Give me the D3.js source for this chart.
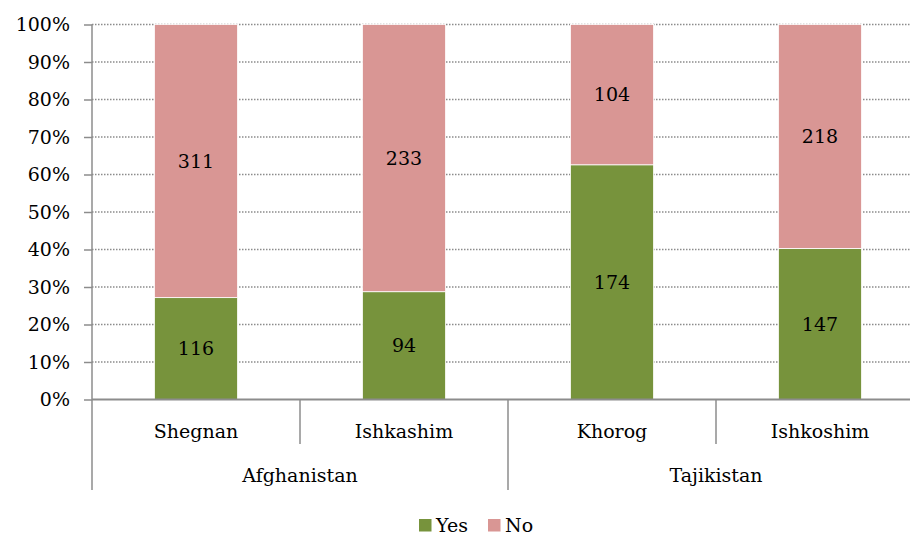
<!DOCTYPE html>
<html lang="en">
<head>
    <meta charset="UTF-8">
    <title>Yes / No by district</title>
    <script src="https://cdn.jsdelivr.net/npm/d3@7"></script>
    <style>
        body {
            margin: 0;
            background-color: white;
        }
        svg text {
            font-family: "DejaVu Serif", serif;
            font-size: 19px;
            fill: black;
        }
    </style>
</head>
<body>

<svg id="chart" width="910" height="536"></svg>

<script>
    var districts = ["Shegnan", "Ishkashim", "Khorog", "Ishkoshim"];
    var countries = ["Afghanistan", "Afghanistan", "Tajikistan", "Tajikistan"];
    var yesValues = [116, 94, 174, 147];
    var noValues = [311, 233, 104, 218];
    var seriesNames = ["Yes", "No"];
    var seriesColors = ["#77933c", "#d99694"];
    var percentTicks = [0, 0.1, 0.2, 0.3, 0.4, 0.5, 0.6, 0.7, 0.8, 0.9, 1];

    var plotLeft = 92, plotRight = 924, plotTop = 24.5, plotBottom = 399.5;
    var axisColor = "#8c8c8c";

    var svg = d3.select("#chart");

    var x = d3.scaleBand()
        .domain(districts)
        .range([plotLeft, plotRight])
        .paddingInner(0.6)
        .paddingOuter(0.3);

    var y = d3.scaleLinear()
        .domain([0, 1])
        .range([plotBottom, plotTop]);

    // rows of stacked shares
    var rows = districts.map(function(d, i) {
        var total = yesValues[i] + noValues[i];
        return { district: d, Yes: yesValues[i] / total, No: noValues[i] / total,
                 YesN: yesValues[i], NoN: noValues[i] };
    });
    var stacked = d3.stack().keys(seriesNames)(rows);

    // gridlines
    svg.append("g")
        .selectAll("line")
        .data(percentTicks.slice(1))
        .enter()
        .append("line")
        .attr("x1", plotLeft)
        .attr("x2", plotRight)
        .attr("y1", function(d) { return y(d); })
        .attr("y2", function(d) { return y(d); })
        .attr("stroke", axisColor)
        .attr("stroke-width", 1.5)
        .attr("stroke-dasharray", "1.5,1.5");

    // bars
    var layers = svg.append("g")
        .selectAll("g")
        .data(stacked)
        .enter()
        .append("g")
        .attr("fill", function(d, i) { return seriesColors[i]; });

    layers.selectAll("rect")
        .data(function(d) { return d; })
        .enter()
        .append("rect")
        .attr("x", function(d) { return x(d.data.district); })
        .attr("width", x.bandwidth())
        .attr("y", function(d) { return y(d[1]); })
        .attr("height", function(d) { return y(d[0]) - y(d[1]); })
        .attr("stroke", "#fff")
        .attr("stroke-width", 0.8);

    // value labels
    layers.each(function(layer) {
        d3.select(this).selectAll("text")
            .data(layer)
            .enter()
            .append("text")
            .attr("x", function(d) { return x(d.data.district) + x.bandwidth() / 2; })
            .attr("y", function(d) { return y((d[0] + d[1]) / 2); })
            .attr("dy", "0.35em")
            .attr("text-anchor", "middle")
            .style("fill", "black")
            .text(function(d) { return d.data[layer.key + "N"]; });
    });

    // y axis
    var yAxis = svg.append("g")
        .attr("transform", "translate(" + plotLeft + ",0)")
        .call(d3.axisLeft(y)
            .tickValues(percentTicks)
            .tickFormat(d3.format(".0%"))
            .tickSize(8)
            .tickPadding(14));
    yAxis.select(".domain").remove();
    yAxis.selectAll(".tick line").attr("stroke", axisColor).attr("stroke-width", 1.5);
    yAxis.selectAll(".tick text").style("font-size", "19px").style("font-family", "DejaVu Serif, serif");

    svg.append("line")
        .attr("x1", plotLeft).attr("x2", plotLeft)
        .attr("y1", plotTop).attr("y2", 490)
        .attr("stroke", axisColor).attr("stroke-width", 1.5);

    // x axis baseline
    svg.append("line")
        .attr("x1", plotLeft).attr("x2", plotRight)
        .attr("y1", plotBottom).attr("y2", plotBottom)
        .attr("stroke", axisColor).attr("stroke-width", 1.8);

    // category dividers
    var step = x.step();
    var edges = districts.map(function(d) { return x(d) - x.paddingInner() * step / 2; });
    edges.push(plotRight);
    svg.append("g")
        .selectAll("line")
        .data(edges.slice(1))
        .enter()
        .append("line")
        .attr("x1", function(d) { return d; })
        .attr("x2", function(d) { return d; })
        .attr("y1", plotBottom)
        .attr("y2", function(d, i) {
            var next = countries[i + 1];
            return (next === undefined || next !== countries[i]) ? 490 : 444;
        })
        .attr("stroke", axisColor)
        .attr("stroke-width", 1.5);

    // district labels
    svg.append("g")
        .selectAll("text")
        .data(districts)
        .enter()
        .append("text")
        .attr("x", function(d) { return x(d) + x.bandwidth() / 2; })
        .attr("y", 438)
        .attr("text-anchor", "middle")
        .text(function(d) { return d; });

    // country labels
    var groups = d3.groups(districts, function(d) { return countries[districts.indexOf(d)]; });
    svg.append("g")
        .selectAll("text")
        .data(groups)
        .enter()
        .append("text")
        .attr("x", function(g) {
            var first = x(g[1][0]), last = x(g[1][g[1].length - 1]);
            return (first + last + x.bandwidth()) / 2;
        })
        .attr("y", 482)
        .attr("text-anchor", "middle")
        .text(function(g) { return g[0]; });

    // legend
    var legendPos = [419, 488];
    var legend = svg.append("g")
        .selectAll("g")
        .data(seriesNames)
        .enter()
        .append("g")
        .attr("transform", function(d, i) { return "translate(" + legendPos[i] + ",519)"; });
    legend.append("rect")
        .attr("width", 12.5)
        .attr("height", 12.5)
        .attr("fill", function(d, i) { return seriesColors[i]; });
    legend.append("text")
        .attr("x", 17)
        .attr("y", 13)
        .text(function(d) { return d; });
</script>
</body>
</html>
